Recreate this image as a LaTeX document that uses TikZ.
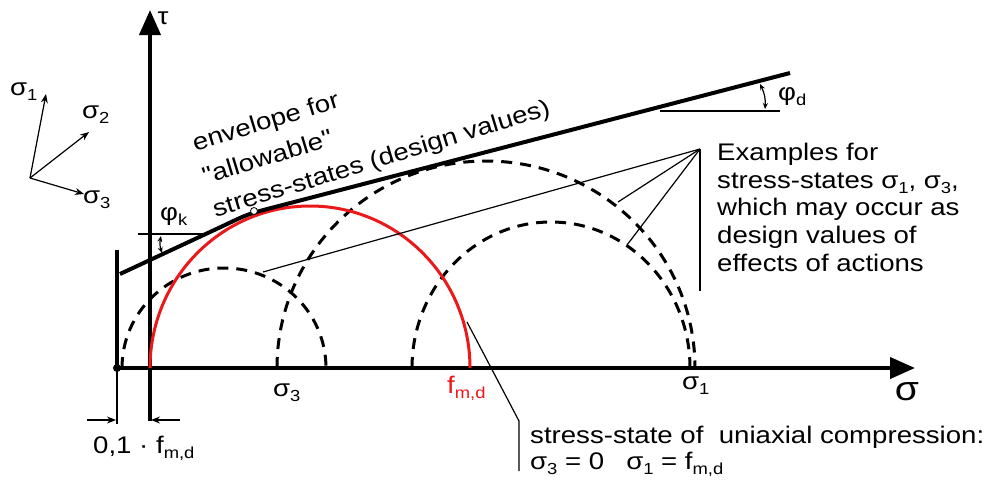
\documentclass[tikz,border=0pt]{standalone}
\usepackage{fontspec}
\setmainfont{Liberation Sans}[FakeStretch=1.15, Ligatures=TeXOff]
\usetikzlibrary{arrows.meta}
\definecolor{fred}{RGB}{235,25,25}
\newcommand\lsub[1]{\raisebox{-0.4ex}{\fontsize{16}{16}\selectfont #1}}
\begin{document}
\begin{tikzpicture}[x=1pt,y=1pt,
  axisline/.style={line width=4pt},
  thinline/.style={line width=1.2pt},
  dashcircle/.style={line width=3pt, dash pattern=on 11pt off 8pt},
  lbl/.style={inner sep=0pt, font=\fontsize{24}{27.7}\selectfont},
  bigtip/.style={-{Triangle[length=25pt,width=21pt]}},
  smalltip/.style={-{Stealth[length=9pt,width=7pt]}},
  angtip/.style={{Stealth[length=6pt,width=5pt]}-{Stealth[length=6pt,width=5pt]}},
  ]
\useasboundingbox (0,0) rectangle (984,-485);

% axes
\coordinate (sigstart) at (117,-368);
\coordinate (sigtip) at (915,-368);
\coordinate (taubot) at (150,-421);
\coordinate (tautip) at (150,-10);
\draw[axisline, bigtip] (sigstart) -- (sigtip);
\draw[axisline, bigtip] (taubot) -- (tautip);
\fill (sigstart) circle (4pt);
\coordinate (lefttop) at (117,-250);
\draw[axisline] (sigstart) -- (lefttop);

% dashed Mohr circles
\draw[dashcircle] (122,-368) arc[start angle=180, end angle=0, x radius=102, y radius=100];
\draw[dashcircle] (277,-368) arc[start angle=180, end angle=0, x radius=209, y radius=207];
\draw[dashcircle] (412,-368) arc[start angle=180, end angle=0, x radius=139, y radius=146];

% red circle (uniaxial compression)
\draw[fred, line width=3pt] (150,-368) arc[start angle=180, end angle=0, x radius=160, y radius=162];

% envelope
\coordinate (e0) at (120,-274);
\coordinate (e1) at (225,-225);
\coordinate (ec) at (248,-214);
\coordinate (e2) at (275,-207);
\coordinate (e3) at (790,-73);
\draw[line width=4pt] (e0) -- (e1) .. controls (ec) .. (e2) -- (e3);
\node[circle, draw, fill=white, line width=0.8pt, inner sep=0pt, minimum size=7pt] (tp) at (254,-211) {};

% angle phi_k
\coordinate (hk0) at (138,-234);
\coordinate (hk1) at (207,-234);
\draw[thinline] (hk0) -- (hk1);
\coordinate (ak0) at (161,-236);
\coordinate (ak1) at (162,-253);
\draw[thinline, angtip] (ak0) to[bend right=15] (ak1);
\node[lbl, anchor=base west] (phik) at (160,-220) {φ\lsub{k}};

% angle phi_d
\coordinate (hd0) at (660,-111);
\coordinate (hd1) at (780,-111);
\draw[thinline] (hd0) -- (hd1);
\coordinate (ad0) at (760,-84);
\coordinate (ad1) at (765,-109);
\draw[thinline, angtip] (ad0) to[bend left=15] (ad1);
\node[lbl, anchor=base west] (phid) at (778,-100) {φ\lsub{d}};

% envelope text
\node[lbl, rotate=17, anchor=north west, align=left, font=\fontsize{24}{34.5}\selectfont]
  (env) at (190,-134.5) {envelope for\\"allowable"\\stress-states (design values)};

% examples text and leaders
\node[lbl, anchor=north west, align=left] (ex) at (717,-143)
  {Examples for\\stress-states σ\lsub{1}, σ\lsub{3},\\which may occur as\\design values of\\effects of actions};
\coordinate (apex) at (700,-149);
\coordinate (la) at (263,-272);
\coordinate (lb) at (618,-202);
\coordinate (lc) at (627,-245);
\coordinate (lv) at (700,-291);
\draw[thinline] (apex) -- (la);
\draw[thinline] (apex) -- (lb);
\draw[thinline] (apex) -- (lc);
\draw[thinline] (apex) -- (lv);

% uniaxial compression leader and text
\coordinate (u0) at (467,-322);
\coordinate (u1) at (519,-421);
\coordinate (u2) at (519,-471);
\draw[thinline] (u0) -- (u1) -- (u2);
\node[lbl, anchor=north west, align=left, font=\fontsize{24}{26}\selectfont] (ss) at (530,-426)
  {stress-state of \ uniaxial compression:\\σ\lsub{3} = 0\hspace{22pt}σ\lsub{1} = f\lsub{m,d}};

% axis labels
\node[lbl, anchor=base] (tau) at (163,-24) {τ};
\node[lbl, anchor=base, font=\fontsize{34}{34}\selectfont] (sig) at (907,-400) {σ};
\node[lbl, anchor=base west] (s1) at (682,-389) {σ\lsub{1}};
\node[lbl, anchor=base west] (s3) at (273,-396) {σ\lsub{3}};
\node[lbl, anchor=base west, text=fred] (fmd) at (447,-393) {f\lsub{m,d}};

% dimension 0,1 f_md
\coordinate (dv0) at (117,-368);
\coordinate (dv1) at (117,-424);
\draw[thinline] (dv0) -- (dv1);
\coordinate (dl0) at (87,-420);
\coordinate (dl1) at (116,-420);
\coordinate (dr0) at (180,-420);
\coordinate (dr1) at (151,-420);
\draw[thinline, smalltip] (dl0) -- (dl1);
\draw[thinline, smalltip] (dr0) -- (dr1);
\node[lbl, anchor=base west] (dim) at (93,-453) {0,1 · f\lsub{m,d}};

% principal stress directions
\coordinate (cs) at (30,-178);
\coordinate (cs1) at (46,-94);
\coordinate (cs2) at (89,-132);
\coordinate (cs3) at (84,-194);
\draw[thinline, smalltip] (cs) -- (cs1);
\draw[thinline, smalltip] (cs) -- (cs2);
\draw[thinline, smalltip] (cs) -- (cs3);
\node[lbl, anchor=base west] (l1) at (10,-95) {σ\lsub{1}};
\node[lbl, anchor=base west] (l2) at (82,-118) {σ\lsub{2}};
\node[lbl, anchor=base west] (l3) at (83,-203) {σ\lsub{3}};
\end{tikzpicture}
\end{document}
